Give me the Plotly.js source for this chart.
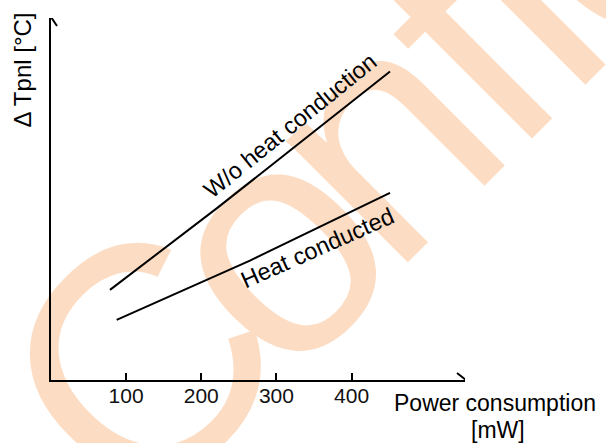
<!DOCTYPE html>
<html>
<head>
<meta charset="utf-8">
<script src="https://cdn.plot.ly/plotly-3.0.1.min.js"></script>
<style>html,body{margin:0;padding:0;background:#fff;}#chart{width:606px;height:443px;}</style>
</head>
<body>
<div id="chart"></div>
<script>
// Power consumption [mW]
const woPower = [78.5, 220.5, 451.2];
// ΔTpnl (arbitrary units, no scale on axis)
const woTemp = [24.9, 47.4, 85.2];
const heatPower = [87.4, 264.8, 451.2];
const heatTemp = [16.6, 33.0, 51.7];
const xTickVals = [100, 200, 300, 400];
const xTickText = ['100', '200', '300', '400'];
const seriesLabels = ['W/o heat conduction', 'Heat conducted'];
const xTitleLines = ['Power consumption', '[mW]'];
const yTitle = 'Δ Tpnl [°C]';
const watermarkLetters = ['C', 'o', 'n', 'f', 'i', 'd'];

const FONT = 'Liberation Sans, Arial, sans-serif';
const XMAX = 551, YMAX = 100;
const M = {l: 51, r: 141, t: 18, b: 63};
const PW = 606 - M.l - M.r, PH = 443 - M.t - M.b;
const px2paperX = p => (p - M.l) / PW;
const px2paperY = p => (443 - M.b - p) / PH;

// watermark letter anchors in page pixels (decoration, not data)
const wmPos = [[118.3, 342.3], [247.6, 222.6], [354.3, 112.9], [442.1, 25.4], [494.1, -26.9], [575.8, -108.2]];
const wmShapes = watermarkLetters.map((ch, i) => {
  const cx = px2paperX(wmPos[i][0]), cy = px2paperY(wmPos[i][1]);
  return {type: 'rect', xref: 'paper', yref: 'paper', x0: cx - 0.001, x1: cx + 0.001, y0: cy - 0.001, y1: cy + 0.001,
    layer: 'below', line: {width: 0}, fillcolor: 'rgba(0,0,0,0)',
    label: {text: ch, textposition: 'middle center', xanchor: 'center', yanchor: 'middle', textangle: -45, padding: 0,
            font: {family: FONT, size: 325, color: '#FCDDC4'}}};
});

const traces = [
  {x: woPower, y: woTemp, mode: 'lines', line: {color: '#000', width: 2}, hoverinfo: 'skip'},
  {x: heatPower, y: heatTemp, mode: 'lines', line: {color: '#000', width: 2}, hoverinfo: 'skip'}
];

const layout = {
  width: 606, height: 443,
  margin: M,
  paper_bgcolor: '#fff', plot_bgcolor: 'rgba(0,0,0,0)',
  showlegend: false,
  font: {family: FONT, color: '#000'},
  xaxis: {
    range: [0, XMAX], showline: true, linecolor: '#000', linewidth: 2,
    showgrid: false, zeroline: false, ticks: 'inside', ticklen: 7, tickwidth: 2, tickcolor: '#000',
    ticklabelstandoff: -4,
    tickvals: xTickVals, ticktext: xTickText, tickfont: {size: 21, family: FONT, color: '#111'}
  },
  yaxis: {
    range: [0, YMAX], showline: true, linecolor: '#000', linewidth: 2,
    showgrid: false, zeroline: false, ticks: '', showticklabels: false
  },
  shapes: wmShapes.concat([
    {type: 'path', xref: 'x', yref: 'y', xsizemode: 'pixel', ysizemode: 'pixel',
     xanchor: XMAX, yanchor: 0, path: 'M -8,7 L 1,0 L -8,-7', line: {color: '#000', width: 2}},
    {type: 'path', xref: 'x', yref: 'y', xsizemode: 'pixel', ysizemode: 'pixel',
     xanchor: 0, yanchor: YMAX, path: 'M -6,-8 L 0,1 L 6,-8', line: {color: '#000', width: 2}}
  ]),
  annotations: [
    {xref: 'x', yref: 'y', x: 317.7, y: 70.2, text: seriesLabels[0], showarrow: false,
     textangle: -39, font: {size: 23.5, family: FONT, color: '#000'}},
    {xref: 'x', yref: 'y', x: 354.5, y: 36.6, text: seriesLabels[1], showarrow: false,
     textangle: -24, font: {size: 23.5, family: FONT, color: '#000'}},
    {xref: 'paper', yref: 'paper', x: px2paperX(494.5), y: px2paperY(402.7), xanchor: 'center', yanchor: 'middle',
     text: xTitleLines[0], showarrow: false, font: {size: 23, family: FONT, color: '#000'}},
    {xref: 'paper', yref: 'paper', x: px2paperX(498), y: px2paperY(430), xanchor: 'center', yanchor: 'middle',
     text: xTitleLines[1], showarrow: false, font: {size: 23, family: FONT, color: '#000'}},
    {xref: 'paper', yref: 'paper', x: px2paperX(22.5), y: px2paperY(70), xanchor: 'center', yanchor: 'middle',
     text: yTitle, showarrow: false, textangle: -90, font: {size: 24, family: FONT, color: '#000'}}
  ]
};

Plotly.newPlot('chart', traces, layout, {staticPlot: true, displayModeBar: false});
</script>
</body>
</html>
